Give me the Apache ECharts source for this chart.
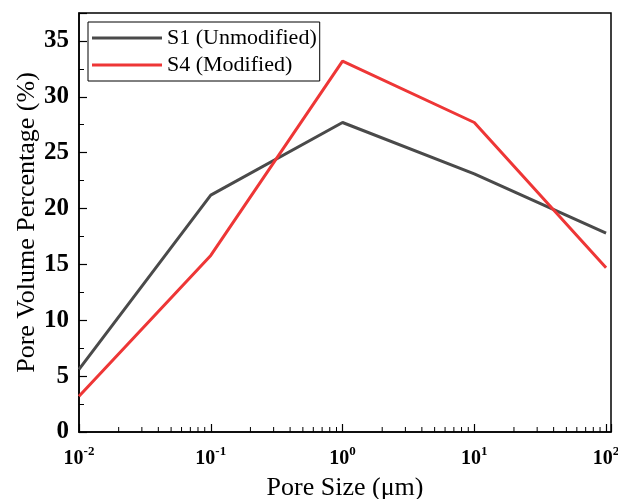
<!DOCTYPE html>
<html>
<head>
<meta charset="utf-8">
<script src="https://cdn.jsdelivr.net/npm/echarts@6/dist/echarts.min.js"></script>
<style>html,body{margin:0;padding:0;background:#fff;}#c{width:618px;height:499px;}</style>
</head>
<body>
<div id="c"></div>
<script>
// Data
const poreSizes = [0.01, 0.1, 1, 10, 100];
const s1Values = [5.6, 21.2, 27.7, 23.1, 17.8];
const s4Values = [3.2, 15.8, 33.2, 27.7, 14.7];
const seriesNames = ['S1 (Unmodified)', 'S4 (Modified)'];
const yTickValues = [0, 5, 10, 15, 20, 25, 30, 35];
const xMinorTicks = [0.02,0.03,0.04,0.05,0.06,0.07,0.08,0.09,
                     0.2,0.3,0.4,0.5,0.6,0.7,0.8,0.9,
                     2,3,4,5,6,7,8,9,
                     20,30,40,50,60,70,80,90];

const FONT = "'Liberation Serif','Times New Roman',serif";
const chart = echarts.init(document.getElementById('c'), null, {renderer: 'canvas'});

function pairs(xs, ys) { return xs.map((x, i) => [x, ys[i]]); }

chart.setOption({
  animation: false,
  backgroundColor: '#fff',
  grid: {left: 79, right: 7, top: 13, bottom: 67, show: true, borderColor: '#000', borderWidth: 1.5,
         containLabel: false, outerBoundsMode: 'none'},
  legend: {
    data: seriesNames,
    orient: 'vertical',
    left: 88, top: 22,
    padding: [5, 3, 5, 4],
    itemGap: 5,
    itemWidth: 70,
    itemHeight: 3,
    icon: 'rect',
    borderColor: '#000', borderWidth: 1,
    textStyle: {fontFamily: FONT, fontSize: 22, color: '#000'}
  },
  xAxis: {
    type: 'log', logBase: 10, min: 0.01, max: 109,
    name: 'Pore Size (\u03bcm)', nameLocation: 'middle', nameGap: 43, nameMoveOverlap: false,
    nameTextStyle: {fontFamily: FONT, fontSize: 26, color: '#000'},
    axisLine: {show: true, lineStyle: {color: '#000', width: 1.5}},
    axisTick: {show: true, inside: true, length: 8, lineStyle: {color: '#000', width: 1.2}},
    minorTick: {show: false},
    splitLine: {show: false},
    axisLabel: {
      margin: 13,
      formatter: function (v) {
        const e = Math.log10(v);
        const r = Math.round(e);
        if (Math.abs(e - r) > 1e-6) return '';
        return '{b|10}{s|' + r + '}';
      },
      rich: {
        b: {fontFamily: FONT, fontSize: 20, fontWeight: 'bold', color: '#000', verticalAlign: 'bottom'},
        s: {fontFamily: FONT, fontSize: 13, fontWeight: 'bold', color: '#000', verticalAlign: 'bottom', padding: [0, 0, 11, 0]}
      }
    }
  },
  yAxis: {
    type: 'value', min: 0, max: 37.5, interval: 5,
    name: 'Pore Volume Percentage (%)', nameLocation: 'middle', nameGap: 39, nameMoveOverlap: false,
    nameTextStyle: {fontFamily: FONT, fontSize: 26, color: '#000'},
    axisLine: {show: true, lineStyle: {color: '#000', width: 1.5}},
    axisTick: {show: true, inside: true, length: 8, lineStyle: {color: '#000', width: 1.2}},
    minorTick: {show: true, splitNumber: 2, length: 5, lineStyle: {color: '#000', width: 1}},
    splitLine: {show: false},
    axisLabel: {
      margin: 10, fontFamily: FONT, fontSize: 25, fontWeight: 'bold', color: '#000',
      formatter: function (v) { return yTickValues.indexOf(v) >= 0 ? String(v) : ''; }
    }
  },
  series: [
    {name: seriesNames[0], type: 'line', data: pairs(poreSizes, s1Values), symbol: 'none',
     lineStyle: {color: '#4a4a4a', width: 3}, itemStyle: {color: '#4a4a4a'}, z: 3},
    {name: seriesNames[1], type: 'line', data: pairs(poreSizes, s4Values), symbol: 'none',
     lineStyle: {color: '#ee3636', width: 3}, itemStyle: {color: '#ee3636'}, z: 4},
    {type: 'custom', silent: true, data: xMinorTicks.map(v => [v, 0]),
     encode: {x: 0, y: 1},
     renderItem: function (params, api) {
       const p = api.coord([api.value(0), 0]);
       return {type: 'line', shape: {x1: p[0], y1: p[1], x2: p[0], y2: p[1] - 5},
               style: {stroke: '#000', lineWidth: 1}};
     }, z: 5}
  ]
});
</script>
</body>
</html>
